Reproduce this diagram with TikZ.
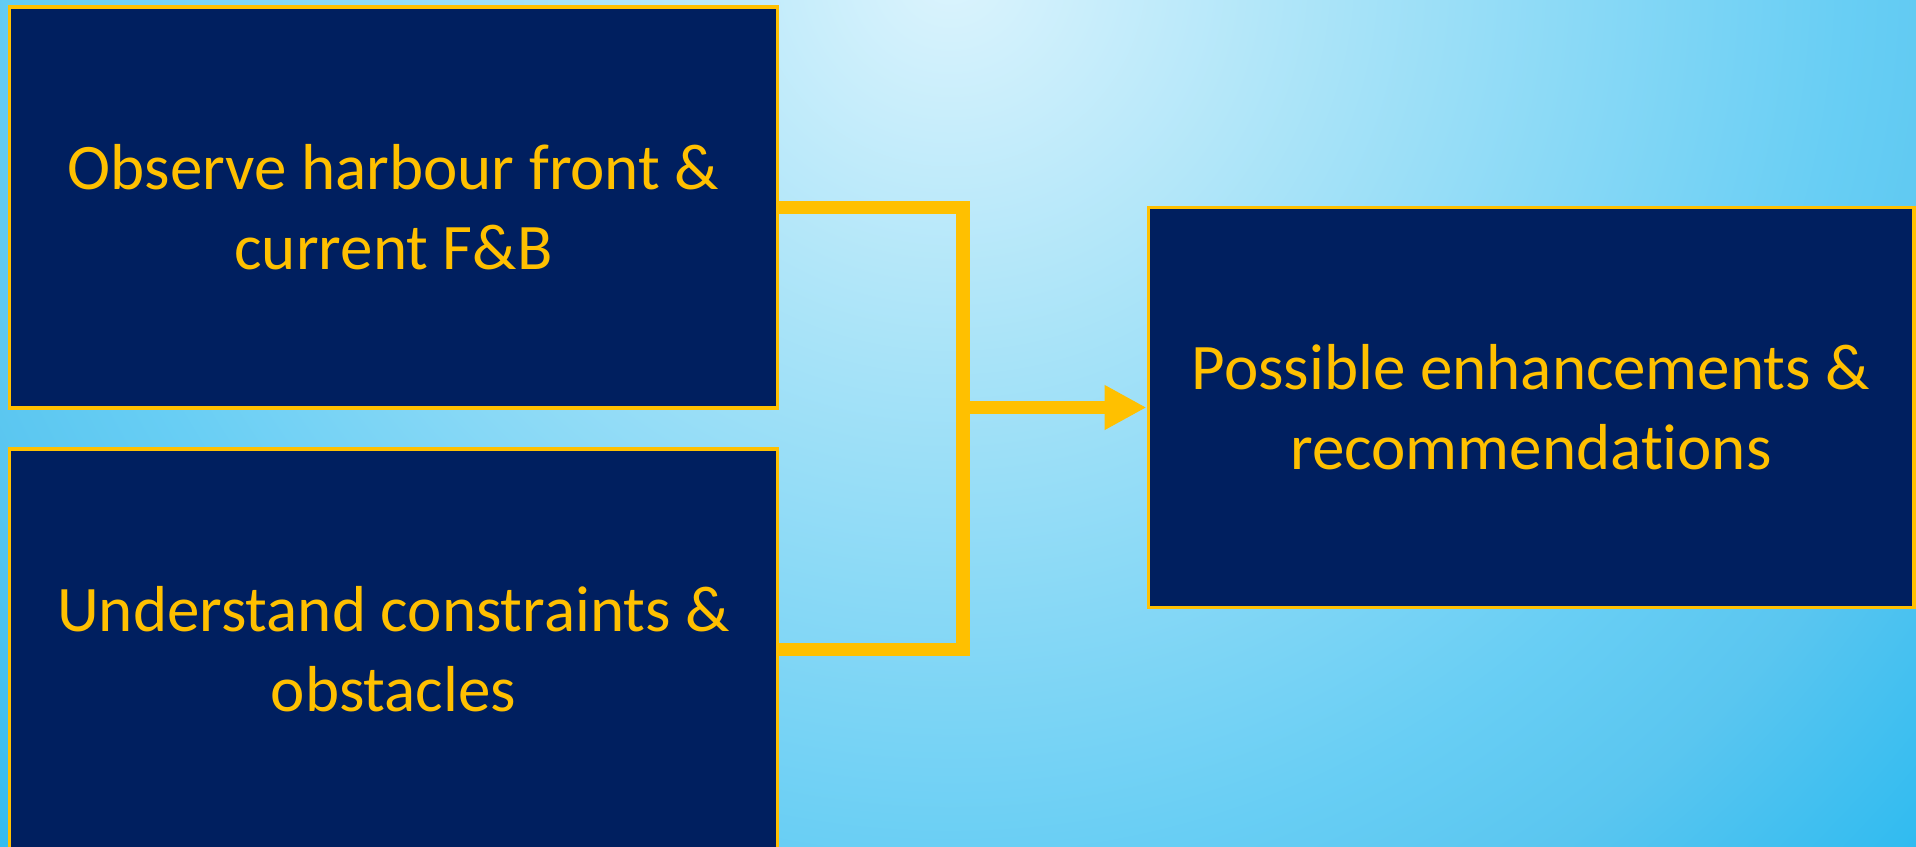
\documentclass[tikz,border=0pt]{standalone}
\usepackage{fontspec}
\setmainfont{Carlito}[Ligatures=NoCommon]
\usepackage{xcolor}
\usepackage{tikz}
\usetikzlibrary{arrows.meta}
\definecolor{navy}{RGB}{0,31,95}
\definecolor{gold}{RGB}{255,192,0}
\definecolor{sky0}{RGB}{220,244,253}
\definecolor{sky1}{RGB}{168,227,248}
\definecolor{sky2}{RGB}{104,206,244}
\definecolor{sky3}{RGB}{90,198,240}
\definecolor{sky4}{RGB}{48,187,240}
\pgfdeclareradialshading{skyglow}{\pgfpoint{0bp}{0bp}}{color(0bp)=(sky0); color(7bp)=(sky1); color(16bp)=(sky2); color(19bp)=(sky3); color(23.3bp)=(sky4); color(50bp)=(sky4)}

\begin{document}
\begin{tikzpicture}[x=1pt, y=-1pt,
    box/.style={draw=gold, line width=3.5pt, fill=navy, text=gold,
      minimum width=768pt, minimum height=401pt, align=center,
      font=\fontsize{65}{80}\selectfont},
    link/.style={draw=gold, line width=13.5pt}]
    % Fond
    \useasboundingbox (0,0) rectangle (1916,846);
    \begin{scope}
        \clip (0,0) rectangle (1916,846);
        \shade[shading=skyglow] (950,-30) circle (1400);
    \end{scope}

    % Boites
    \node[box] (observe) at (393.5,207.5) {Observe harbour front \&\\current F\&B};
    \node[box] (constraints) at (393.5,649.5) {Understand constraints \&\\obstacles};
    \node[box, minimum width=765.5pt, minimum height=400pt] (enhance) at (1531,407.5) {Possible enhancements \&\\recommendations};

    % Liaisons
    \coordinate (merge) at (963,407.5);
    \draw[link] (observe.east) -| (merge) |- (constraints.east);
    \draw[link, -{Triangle[length=42pt, width=42pt]}] (merge) -- (enhance.west);
\end{tikzpicture}
\end{document}
